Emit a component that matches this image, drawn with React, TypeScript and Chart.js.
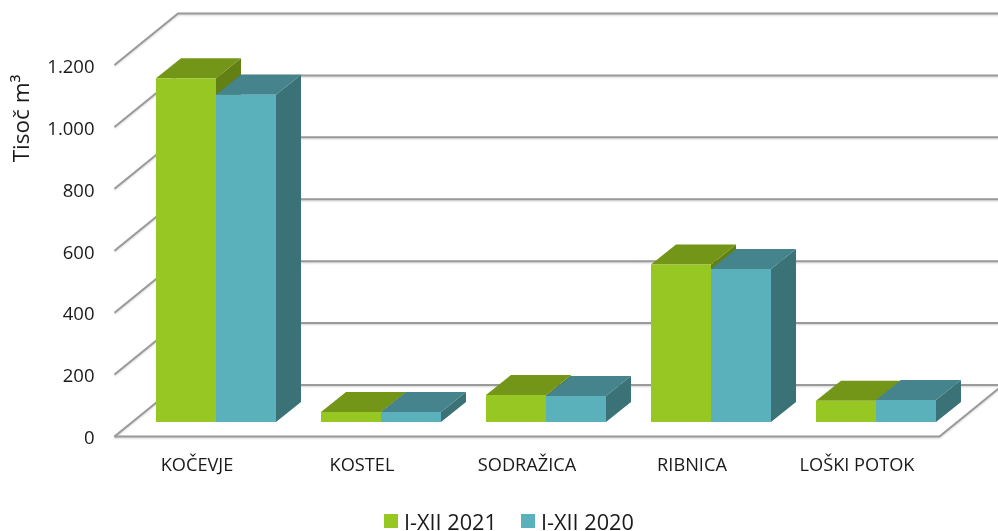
import React, { useEffect, useRef } from "react";
import { Chart, registerables } from "chart.js";

Chart.register(...registerables);

const categories = ["KOČEVJE", "KOSTEL", "SODRAŽICA", "RIBNICA", "LOŠKI POTOK"];
const series2021 = [1110, 32, 87, 509, 69];
const series2020 = [1057, 32, 84, 494, 71];
const seriesNames = ["I-XII 2021", "I-XII 2020"];
const yTicks = [0, 200, 400, 600, 800, 1000, 1200];
const yTitle = "Tisoč m³";

const FRONT = ["#97c723", "#5ab0bb"];
const TOP = ["#739518", "#45838d"];
const SIDE = ["#628013", "#3b7277"];
const TEXT = "#1a1a1a";
const FONT = "'Open Sans'";

const W = 998;
const H = 531;
const AREA_LEFT = 114.5;
const AREA_RIGHT = 939.5;
const AREA_TOP = 65;
const AREA_BOTTOM = 436.5;
const WALL_DX = 63.5;
const WALL_DY = -51.5;
const BAR_SHIFT_X = 19;
const BAR_SHIFT_Y = -14.5;
const BAR_DX = 25;
const BAR_DY = -20;
const LEGEND_BOX_X = [384, 521];
const LEGEND_TEXT_X = [404, 541];

const poly = (ctx: CanvasRenderingContext2D, pts: number[][], fill: string) => {
  ctx.beginPath();
  pts.forEach((p, i) => (i ? ctx.lineTo(p[0], p[1]) : ctx.moveTo(p[0], p[1])));
  ctx.closePath();
  ctx.fillStyle = fill;
  ctx.fill();
};

const stage3d = {
  id: "stage3d",
  beforeDatasetsDraw(chart: any) {
    const { ctx, scales } = chart;
    const y = scales.y;
    const x = scales.x;
    ctx.save();
    ctx.strokeStyle = "#9a9a9a";
    ctx.lineWidth = 2;
    ctx.shadowColor = "rgba(0,0,0,0.18)";
    ctx.shadowBlur = 2;
    ctx.shadowOffsetY = 1;
    yTicks.forEach((t) => {
      const py = y.getPixelForValue(t);
      ctx.beginPath();
      ctx.moveTo(x.left, py);
      ctx.lineTo(x.left + WALL_DX, py + WALL_DY);
      ctx.lineTo(W + 5, py + WALL_DY);
      ctx.stroke();
    });
    const base = y.getPixelForValue(0);
    ctx.beginPath();
    ctx.moveTo(x.left, base);
    ctx.lineTo(x.right, base);
    ctx.lineTo(x.right + WALL_DX, base + WALL_DY);
    ctx.stroke();
    ctx.restore();

    ctx.save();
    ctx.translate(BAR_SHIFT_X, BAR_SHIFT_Y);
    chart.data.datasets.forEach((_: any, di: number) => {
      chart.getDatasetMeta(di).data.forEach((bar: any) => {
        const half = bar.width / 2;
        const l = bar.x - half;
        const r = bar.x + half;
        const t = bar.y;
        const b = bar.base;
        poly(ctx, [[r, b], [r + BAR_DX, b + BAR_DY], [r + BAR_DX, t + BAR_DY], [r, t]], SIDE[di]);
        poly(ctx, [[l, t], [l + BAR_DX, t + BAR_DY], [r + BAR_DX, t + BAR_DY], [r, t]], TOP[di]);
      });
    });
    ctx.restore();
    ctx.save();
    ctx.translate(BAR_SHIFT_X, BAR_SHIFT_Y);
  },
  afterDatasetsDraw(chart: any) {
    chart.ctx.restore();
  },
  afterDraw(chart: any) {
    const { ctx } = chart;
    ctx.save();
    ctx.fillStyle = TEXT;
    ctx.textBaseline = "middle";
    ctx.textAlign = "center";
    ctx.font = `22.5px ${FONT}`;
    ctx.translate(23, 118.5);
    ctx.rotate(-Math.PI / 2);
    ctx.fillText(yTitle, 0, 0);
    ctx.restore();

    ctx.save();
    ctx.textBaseline = "middle";
    ctx.textAlign = "left";
    ctx.font = `21.7px ${FONT}`;
    seriesNames.forEach((name, i) => {
      ctx.fillStyle = FRONT[i];
      ctx.fillRect(LEGEND_BOX_X[i], 514, 14, 14);
      ctx.fillStyle = TEXT;
      ctx.fillText(name, LEGEND_TEXT_X[i], 524);
    });
    ctx.restore();
  },
};

export default function App() {
  const ref = useRef<HTMLCanvasElement>(null);
  useEffect(() => {
    const chart = new Chart(ref.current!, {
      type: "bar",
      plugins: [stage3d],
      data: {
        labels: categories,
        datasets: [
          { label: seriesNames[0], data: series2021, backgroundColor: FRONT[0], clip: false as any },
          { label: seriesNames[1], data: series2020, backgroundColor: FRONT[1], clip: false as any },
        ],
      },
      options: {
        responsive: false,
        animation: false,
        layout: { padding: { top: AREA_TOP, right: W - AREA_RIGHT, left: 0, bottom: 0 } },
        datasets: { bar: { categoryPercentage: 120 / 165, barPercentage: 1 } },
        plugins: {
          tooltip: { enabled: false },
          legend: { display: false },
        },
        scales: {
          x: {
            grid: { display: false },
            border: { display: false },
            ticks: { color: TEXT, padding: 10, maxRotation: 0, font: { family: FONT, size: 18.2 } },
            afterFit(scale: any) {
              scale.height = H - AREA_BOTTOM;
            },
          },
          y: {
            min: 0,
            max: 1200,
            afterBuildTicks(scale: any) {
              scale.ticks = yTicks.map((value) => ({ value }));
            },
            grid: { display: false },
            border: { display: false },
            ticks: {
              color: TEXT,
              padding: 12,
              labelOffset: 2.5,
              font: { family: FONT, size: 18.5 },
              callback: (v: any) => (v >= 1000 ? `${Math.floor(v / 1000)}.${String(v % 1000).padStart(3, "0")}` : `${v}`),
            },
            afterFit(scale: any) {
              scale.width = AREA_LEFT;
            },
          },
        },
      },
    } as any);
    return () => chart.destroy();
  }, []);
  return (
    <div style={{ position: "absolute", left: 0, top: 0, width: W, height: H, background: "#fff" }}>
      <canvas ref={ref} width={W} height={H} style={{ display: "block" }} />
    </div>
  );
}
